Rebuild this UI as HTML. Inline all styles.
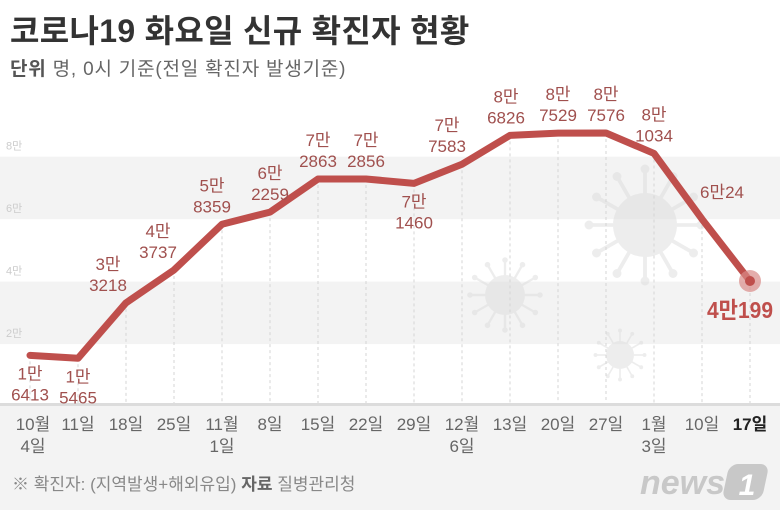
<!DOCTYPE html>
<html><head><meta charset="utf-8"><style>
body{margin:0;background:#fff;}
svg{display:block;font-family:"Liberation Sans","Noto Sans CJK KR",sans-serif;}
</style></head><body>
<svg id="chart" width="780" height="510" viewBox="0 0 780 510">
<rect x="0" y="0" width="780" height="510" fill="#fff"/>
<g id="bands"></g>
<g id="virus" opacity="0.5"></g>
<rect x="0" y="404" width="780" height="106" fill="#f3f3f3"/>
<rect x="0" y="403" width="780" height="3" fill="#dcdcdc"/>
<g id="grid"></g>
<g id="plot"></g>
<g id="xlabels"></g>
<text x="10" y="42" font-size="32" font-weight="bold" fill="#333" letter-spacing="0.3">코로나19 화요일 신규 확진자 현황</text>
<text x="10" y="75" font-size="19" fill="#666" letter-spacing="0.8"><tspan font-weight="bold" fill="#555">단위</tspan>  명, 0시 기준(전일 확진자 발생기준)</text>
<text x="12" y="490" font-size="17" fill="#888">※ 확진자: (지역발생+해외유입)  <tspan font-weight="bold" fill="#666">자료</tspan>  질병관리청</text>
<text x="640" y="494" font-size="34" font-weight="bold" font-style="italic" fill="#c8c8c8">news</text>
<rect x="728" y="464" width="40" height="36" rx="9" fill="#c8c8c8" transform="skewX(-12) translate(100,0)"/>
<text x="747" y="495" font-size="30" font-weight="bold" font-style="italic" fill="#fff" text-anchor="middle">1</text>
</svg>
<script>
const categories=["10월\n4일","11일","18일","25일","11월\n1일","8일","15일","22일","29일","12월\n6일","13일","20일","27일","1월\n3일","10일","17일"];
const values=[16413,15465,33218,43737,58359,62259,72863,72856,71460,77583,86826,87529,87576,81034,60024,40199];
const valueLabels=[["1만","6413"],["1만","5465"],["3만","3218"],["4만","3737"],["5만","8359"],["6만","2259"],["7만","2863"],["7만","2856"],["7만","1460"],["7만","7583"],["8만","6826"],["8만","7529"],["8만","7576"],["8만","1034"],["6만24"],["4만199"]];
const yTicks=[20000,40000,60000,80000];
const yTickLabels=["2만","4만","6만","8만"];
const NS="http://www.w3.org/2000/svg";
const labelShift=[0,0,-18,-16,-10,0,0,0,0,-15,-4,0,0,0,0,0];
function x(i){return 30+i*48;}
function y(v){return 406.6-v*0.003124;}
function mk(tag,attrs,parent){const e=document.createElementNS(NS,tag);for(const k in attrs)e.setAttribute(k,attrs[k]);document.getElementById(parent).appendChild(e);return e;}
[[20000,40000],[60000,80000]].forEach((b)=>{
 const r=mk('rect',{x:0,y:y(b[1]),width:780,height:y(b[0])-y(b[1]),fill:'#f3f3f3'},'bands');
 
 
});
yTicks.forEach((t,i)=>{
 const tx=mk('text',{x:6,y:y(t)-7,'font-size':11,fill:'#ccc'},'grid');
 tx.textContent=yTickLabels[i];
 
 
});
function virus(cx,cy,r){
 const g=document.getElementById('virus');
 const c=document.createElementNS(NS,'circle');c.setAttribute('cx',cx);c.setAttribute('cy',cy);c.setAttribute('r',r);c.setAttribute('fill','#ddd');g.appendChild(c);
 for(let k=0;k<12;k++){const a=k*Math.PI/6;const l=document.createElementNS(NS,'line');
  l.setAttribute('x1',cx);l.setAttribute('y1',cy);l.setAttribute('x2',cx+Math.cos(a)*r*1.7);l.setAttribute('y2',cy+Math.sin(a)*r*1.7);l.setAttribute('stroke','#ddd');l.setAttribute('stroke-width',r*0.12);g.appendChild(l);
  const d=document.createElementNS(NS,'circle');d.setAttribute('cx',cx+Math.cos(a)*r*1.75);d.setAttribute('cy',cy+Math.sin(a)*r*1.75);d.setAttribute('r',r*0.14);d.setAttribute('fill','#ddd');g.appendChild(d);}
}
virus(645,225,32);virus(505,295,20);virus(620,355,14);
values.forEach((v,i)=>{
 const l=mk('line',{x1:x(i),x2:x(i),y1:y(v),y2:403,stroke:'#d5d5d5','stroke-width':1,'stroke-dasharray':'3,3'},'plot');
 
 
});
const pts=values.map((v,i)=>x(i)+','+y(v)).join(' ');
const pl=mk('polyline',{points:pts,fill:'none',stroke:'#bf4f4c','stroke-width':7,'stroke-linejoin':'round','stroke-linecap':'round'},'plot');


const last=values.length-1;
const dot=mk('circle',{cx:x(last),cy:y(values[last]),r:11,fill:'#d98a88',opacity:0.7},'plot');


const dot2=mk('circle',{cx:x(last),cy:y(values[last]),r:5,fill:'#bf4f4c'},'plot');


const below=[0,1,8];
valueLabels.forEach((lab,i)=>{
 const px=x(i)+labelShift[i],py=y(values[i]);
 let t;
 if(i===last){
  t=mk('text',{x:x(i)-10,y:py+37,'font-size':23,'font-weight':'bold','text-anchor':'middle',fill:'#bf4f4c',textLength:66,lengthAdjust:'spacingAndGlyphs'},'plot');
  t.textContent=lab[0];
 }else if(lab.length===1){
  t=mk('text',{x:px+20,y:py-21,'font-size':17,'text-anchor':'middle',fill:'#a0504e'},'plot');
  t.textContent=lab[0];
 }else{
  const base=below.includes(i)?py+24:py-33;
  t=mk('text',{x:px,y:base,'font-size':17,'text-anchor':'middle',fill:'#a0504e'},'plot');
  lab.forEach((s,k)=>{const ts=document.createElementNS(NS,'tspan');ts.setAttribute('x',px);ts.setAttribute('dy',k?21:0);ts.textContent=s;t.appendChild(ts);});
 }
 
 
});
categories.forEach((c,i)=>{
 const bold=i===last;
 const t=mk('text',{x:x(i)+(i===0?3:0),y:430,'font-size':17,'text-anchor':'middle',fill:bold?'#222':'#666','font-weight':bold?'bold':'normal'},'xlabels');
 c.split('\n').forEach((s,k)=>{const ts=document.createElementNS(NS,'tspan');ts.setAttribute('x',x(i)+(i===0?3:0));ts.setAttribute('dy',k?22:0);ts.textContent=s;t.appendChild(ts);});
 
 
});
</script>
</body></html>
